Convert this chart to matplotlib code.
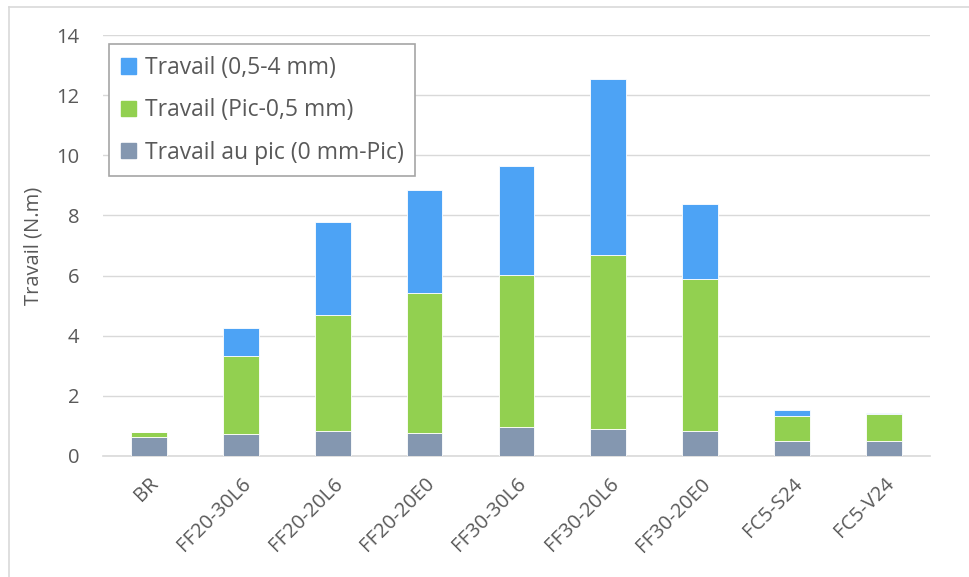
import matplotlib
matplotlib.use("Agg")
import matplotlib.pyplot as plt
import matplotlib.patches as mpatches
import matplotlib.lines as mlines
import numpy as np

plt.rcParams["font.family"] = ["Open Sans", "DejaVu Sans"]

# Data
categories = ["BR", "FF20-30L6", "FF20-20L6", "FF20-20E0", "FF30-30L6",
              "FF30-20L6", "FF30-20E0", "FC5-S24", "FC5-V24"]
peak_work = [0.64, 0.74, 0.82, 0.76, 0.96, 0.89, 0.81, 0.50, 0.51]
green_work = [0.15, 2.57, 3.88, 4.67, 5.07, 5.81, 5.08, 0.83, 0.89]
blue_work = [0.0, 0.96, 3.07, 3.42, 3.62, 5.83, 2.50, 0.18, 0.03]

COLORS = {
    "blue": "#4DA3F5",
    "green": "#92D050",
    "gray": "#8497B0",
    "text": "#595959",
    "grid": "#D9D9D9",
}

fig = plt.figure(figsize=(9.69, 5.77), dpi=100)
ax = fig.add_axes([0.106, 0.210, 0.854, 0.729])

x = np.arange(len(categories))
w = 0.39
peak = np.array(peak_work)
green = np.array(green_work)
blue = np.array(blue_work)

ax.bar(x, peak, w, color=COLORS["gray"], edgecolor="white", linewidth=0.6, zorder=3)
ax.bar(x, green, w, bottom=peak, color=COLORS["green"], edgecolor="white",
       linewidth=0.6, zorder=3)
ax.bar(x, blue, w, bottom=peak + green, color=COLORS["blue"], edgecolor="white",
       linewidth=0.6, zorder=3)

ax.set_xlim(-0.5, len(categories) - 0.5)
ax.set_ylim(0, 14)
ax.set_yticks(range(0, 15, 2))
ax.yaxis.grid(True, color=COLORS["grid"], linewidth=1)
ax.set_axisbelow(True)
for side in ["top", "right", "left"]:
    ax.spines[side].set_visible(False)
ax.spines["bottom"].set_color(COLORS["grid"])
ax.spines["bottom"].set_linewidth(1.2)
ax.tick_params(axis="y", length=0, labelsize=14.5, labelcolor=COLORS["text"], pad=17)
ax.tick_params(axis="x", length=0, labelsize=14.5, labelcolor=COLORS["text"], pad=13)
ax.set_xticks(x)
ax.set_xticklabels(categories, rotation=45, ha="right", rotation_mode="anchor")
ax.set_ylabel("Travail (N.m)", fontsize=14.5, color=COLORS["text"], labelpad=9)

handles = [
    mpatches.Patch(color=COLORS["blue"], label="Travail (0,5-4 mm)"),
    mpatches.Patch(color=COLORS["green"], label="Travail (Pic-0,5 mm)"),
    mpatches.Patch(color=COLORS["gray"], label="Travail au pic (0 mm-Pic)"),
]
leg = ax.legend(handles=handles, loc="upper left", bbox_to_anchor=(0.008, 0.978),
                fontsize=16.5, frameon=True, fancybox=False, framealpha=1,
                edgecolor="#A6A6A6", labelcolor=COLORS["text"],
                handlelength=0.65, handleheight=0.65, handletextpad=0.4,
                labelspacing=0.8, borderpad=0.5, borderaxespad=0)
leg.get_frame().set_linewidth(1.2)

# Chart area border (top and left edges visible)
fig.lines.append(mlines.Line2D([9 / 969, 1], [1 - 7 / 577, 1 - 7 / 577],
                               transform=fig.transFigure, color=COLORS["grid"], linewidth=1.2))
fig.lines.append(mlines.Line2D([9 / 969, 9 / 969], [0, 1 - 7 / 577],
                               transform=fig.transFigure, color=COLORS["grid"], linewidth=1.2))

fig.savefig("out.png", dpi=100, facecolor="white")
plt.close(fig)
